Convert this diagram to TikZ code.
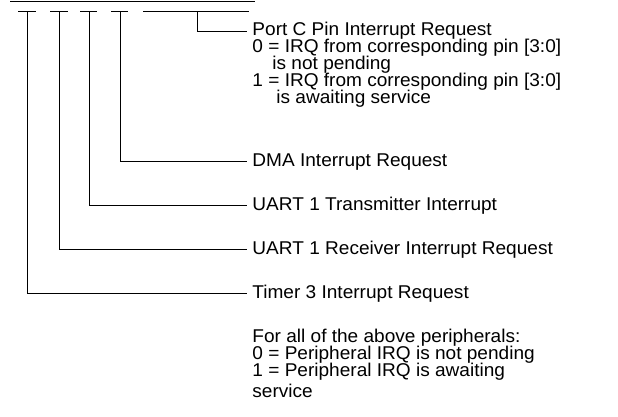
\documentclass[tikz,border=0pt]{standalone}
\usepackage{fontspec}
\setmainfont[FakeStretch=1.03]{Liberation Sans}
\newcommand{\mytight}{\lineskiplimit=-100pt\relax\lineskip=0pt\relax}
\begin{document}
\begin{tikzpicture}[x=1pt,y=-1pt,line width=0.9pt,
  lbl/.style={anchor=base west,inner sep=0pt,font=\fontsize{18.5}{17}\selectfont},
  blk/.style={anchor=north west,inner sep=0pt,align=left,
    font=\fontsize{18.5}{17}\selectfont\mytight}]
\useasboundingbox (0,0) rectangle (618,416);
% register top line
\coordinate (rl) at (10,1);
\coordinate (rr) at (255,1);
\draw (rl) -- (rr);
% bit field ticks
\coordinate (t7a) at (18,11);  \coordinate (t7b) at (36,11);  \coordinate (f7) at (27,11);
\coordinate (t6a) at (50,11);  \coordinate (t6b) at (68,11);  \coordinate (f6) at (59,11);
\coordinate (t5a) at (80,11);  \coordinate (t5b) at (97,11);  \coordinate (f5) at (89,11);
\coordinate (t4a) at (111,11); \coordinate (t4b) at (128,11); \coordinate (f4) at (120,11);
\coordinate (t3a) at (143,11); \coordinate (t3b) at (249,11); \coordinate (f3) at (197,11);
\draw (t7a) -- (t7b);
\draw (t6a) -- (t6b);
\draw (t5a) -- (t5b);
\draw (t4a) -- (t4b);
\draw (t3a) -- (t3b);
% labels
\node[blk] (portc) at (252,22) {Port C Pin Interrupt Request\\
0 = IRQ from corresponding pin [3:0]\\
\hspace*{20pt}is not pending\\
1 = IRQ from corresponding pin [3:0]\\
\hspace*{24pt}is awaiting service};
\coordinate (pcend) at (247,31);
\node[lbl] (dma) at (252,166) {DMA Interrupt Request};
\node[lbl] (utx) at (252,210) {UART 1 Transmitter Interrupt};
\node[lbl] (urx) at (252,254) {UART 1 Receiver Interrupt Request};
\node[lbl] (tmr) at (252,298) {Timer 3 Interrupt Request};
\node[blk] (note) at (252,329) {For all of the above peripherals:\\
0 = Peripheral IRQ is not pending\\
1 = Peripheral IRQ is awaiting\\[4pt]
service};
% connectors
\draw (f3) |- (pcend);
\draw (f4) |- ([shift={(-5,-5)}]dma.base west);
\draw (f5) |- ([shift={(-5,-5)}]utx.base west);
\draw (f6) |- ([shift={(-5,-5)}]urx.base west);
\draw (f7) |- ([shift={(-5,-5)}]tmr.base west);
\end{tikzpicture}
\end{document}
